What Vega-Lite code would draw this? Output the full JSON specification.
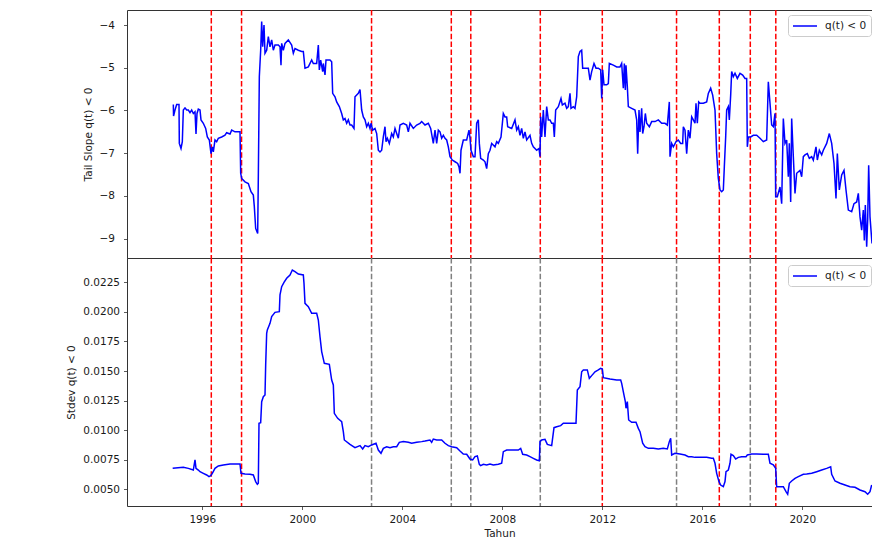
{
  "$schema": "https://vega.github.io/schema/vega-lite/v6.json",
  "padding": {"left": 66, "top": 8, "right": 0, "bottom": 0},
  "spacing": 0,
  "bounds": "flush",
  "config": {
    "font": "DejaVu Sans",
    "view": {"stroke": "#333333", "strokeWidth": 1},
    "concat": {"spacing": 0},
    "axis": {"grid": false, "domain": false, "labelFont": "DejaVu Sans", "labelFontSize": 10.5, "labelColor": "#1a1a1a", "titleFont": "DejaVu Sans", "titleFontSize": 10.5, "titleFontWeight": "normal", "titleColor": "#1a1a1a", "tickColor": "#333333", "tickSize": 3.5, "tickWidth": 0.8},
    "legend": {"labelFont": "DejaVu Sans", "labelFontSize": 10.5, "labelColor": "#1a1a1a", "symbolType": "M-1,0H3", "symbolSize": 144, "symbolStrokeWidth": 1.5, "strokeColor": "#cccccc", "fillColor": "rgba(255,255,255,0.8)", "padding": 4, "cornerRadius": 3, "labelOffset": 19, "title": null}
  },
  "datasets": {
    "events": [
      {"year": 1996.36, "kind": "r"}, {"year": 1997.57, "kind": "r"}, {"year": 2002.77, "kind": "g"},
      {"year": 2005.96, "kind": "g"}, {"year": 2006.74, "kind": "g"}, {"year": 2009.52, "kind": "g"},
      {"year": 2012.0, "kind": "r"}, {"year": 2014.97, "kind": "g"}, {"year": 2016.68, "kind": "r"},
      {"year": 2017.92, "kind": "g"}, {"year": 2018.94, "kind": "r"}
    ],
    "slope": [
      {"year":1994.841,"value":-5.86},{"year":1994.85,"value":-6.13},{"year":1994.908,"value":-5.99},{"year":1994.975,"value":-5.86},{"year":1995.068,"value":-5.86},{"year":1995.081,"value":-6.77},{"year":1995.148,"value":-6.89},{"year":1995.201,"value":-6.73},{"year":1995.241,"value":-5.99},{"year":1995.308,"value":-5.94},{"year":1995.375,"value":-5.99},{"year":1995.441,"value":-5.99},{"year":1995.508,"value":-6.05},{"year":1995.575,"value":-5.99},{"year":1995.641,"value":-6.07},{"year":1995.708,"value":-6.03},{"year":1995.748,"value":-6.55},{"year":1995.788,"value":-6.07},{"year":1995.841,"value":-5.97},{"year":1995.908,"value":-5.99},{"year":1995.948,"value":-6.22},{"year":1996.041,"value":-6.30},{"year":1996.135,"value":-6.42},{"year":1996.201,"value":-6.62},{"year":1996.281,"value":-6.69},{"year":1996.348,"value":-7.01},{"year":1996.401,"value":-6.85},{"year":1996.441,"value":-6.97},{"year":1996.508,"value":-6.69},{"year":1996.575,"value":-6.73},{"year":1996.641,"value":-6.65},{"year":1996.775,"value":-6.62},{"year":1996.908,"value":-6.58},{"year":1996.975,"value":-6.52},{"year":1997.108,"value":-6.55},{"year":1997.175,"value":-6.46},{"year":1997.308,"value":-6.50},{"year":1997.441,"value":-6.50},{"year":1997.508,"value":-6.50},{"year":1997.535,"value":-7.47},{"year":1997.575,"value":-7.59},{"year":1997.708,"value":-7.67},{"year":1997.841,"value":-7.71},{"year":1997.948,"value":-7.90},{"year":1998.041,"value":-7.98},{"year":1998.081,"value":-8.25},{"year":1998.135,"value":-8.76},{"year":1998.215,"value":-8.88},{"year":1998.241,"value":-7.55},{"year":1998.281,"value":-5.21},{"year":1998.335,"value":-4.59},{"year":1998.375,"value":-3.92},{"year":1998.415,"value":-4.51},{"year":1998.468,"value":-4.00},{"year":1998.508,"value":-4.66},{"year":1998.575,"value":-4.59},{"year":1998.641,"value":-4.27},{"year":1998.708,"value":-4.51},{"year":1998.775,"value":-4.35},{"year":1998.841,"value":-4.59},{"year":1998.908,"value":-4.47},{"year":1999.041,"value":-4.47},{"year":1999.108,"value":-4.51},{"year":1999.148,"value":-4.94},{"year":1999.175,"value":-4.43},{"year":1999.241,"value":-4.59},{"year":1999.308,"value":-4.43},{"year":1999.441,"value":-4.35},{"year":1999.575,"value":-4.47},{"year":1999.641,"value":-4.66},{"year":1999.708,"value":-4.55},{"year":1999.841,"value":-4.59},{"year":1999.975,"value":-4.62},{"year":2000.041,"value":-4.62},
      {"year":2000.108,"value":-5.01},{"year":2000.241,"value":-4.98},{"year":2000.375,"value":-4.82},{"year":2000.441,"value":-4.90},{"year":2000.575,"value":-4.90},{"year":2000.641,"value":-4.47},{"year":2000.681,"value":-5.05},{"year":2000.735,"value":-4.82},{"year":2000.815,"value":-5.09},{"year":2000.841,"value":-4.90},{"year":2000.908,"value":-5.17},{"year":2000.948,"value":-4.82},{"year":2001.108,"value":-4.82},{"year":2001.175,"value":-4.86},{"year":2001.215,"value":-5.60},{"year":2001.308,"value":-5.68},{"year":2001.375,"value":-5.80},{"year":2001.481,"value":-5.91},{"year":2001.575,"value":-6.07},{"year":2001.641,"value":-6.22},{"year":2001.708,"value":-6.19},{"year":2001.775,"value":-6.30},{"year":2001.841,"value":-6.22},{"year":2001.908,"value":-6.34},{"year":2001.975,"value":-6.34},{"year":2002.068,"value":-6.42},{"year":2002.108,"value":-5.68},{"year":2002.241,"value":-5.60},{"year":2002.308,"value":-5.51},{"year":2002.375,"value":-5.99},{"year":2002.441,"value":-6.15},{"year":2002.508,"value":-6.22},{"year":2002.575,"value":-6.38},{"year":2002.641,"value":-6.30},{"year":2002.708,"value":-6.42},{"year":2002.748,"value":-6.30},{"year":2002.815,"value":-6.46},{"year":2002.908,"value":-6.42},{"year":2002.975,"value":-6.54},{"year":2003.041,"value":-6.93},{"year":2003.108,"value":-6.97},{"year":2003.175,"value":-6.93},{"year":2003.241,"value":-6.62},{"year":2003.308,"value":-6.38},{"year":2003.348,"value":-6.73},{"year":2003.401,"value":-6.65},{"year":2003.481,"value":-6.77},{"year":2003.575,"value":-6.54},{"year":2003.641,"value":-6.62},{"year":2003.708,"value":-6.42},{"year":2003.775,"value":-6.54},{"year":2003.841,"value":-6.65},{"year":2003.908,"value":-6.34},{"year":2004.041,"value":-6.30},{"year":2004.175,"value":-6.34},{"year":2004.241,"value":-6.50},{"year":2004.308,"value":-6.30},{"year":2004.441,"value":-6.42},{"year":2004.575,"value":-6.34},{"year":2004.708,"value":-6.30},{"year":2004.775,"value":-6.26},{"year":2004.908,"value":-6.34},{"year":2005.041,"value":-6.30},{"year":2005.135,"value":-6.42},{"year":2005.241,"value":-6.77},{"year":2005.308,"value":-6.46},{"year":2005.375,"value":-6.77},{"year":2005.441,"value":-6.46},{"year":2005.508,"value":-6.50},{"year":2005.575,"value":-6.65},{"year":2005.641,"value":-6.58},
      {"year":2005.708,"value":-6.65},{"year":2005.775,"value":-6.69},{"year":2005.841,"value":-6.85},{"year":2005.908,"value":-7.08},{"year":2006.001,"value":-7.16},{"year":2006.108,"value":-7.20},{"year":2006.215,"value":-7.24},{"year":2006.268,"value":-7.32},{"year":2006.308,"value":-7.47},{"year":2006.348,"value":-6.93},{"year":2006.441,"value":-6.69},{"year":2006.575,"value":-6.69},{"year":2006.668,"value":-6.46},{"year":2006.708,"value":-6.65},{"year":2006.748,"value":-6.93},{"year":2006.841,"value":-7.08},{"year":2006.908,"value":-7.08},{"year":2006.975,"value":-6.30},{"year":2007.041,"value":-6.22},{"year":2007.081,"value":-6.77},{"year":2007.135,"value":-7.12},{"year":2007.241,"value":-7.16},{"year":2007.308,"value":-7.20},{"year":2007.375,"value":-7.36},{"year":2007.441,"value":-7.01},{"year":2007.508,"value":-6.93},{"year":2007.575,"value":-6.77},{"year":2007.708,"value":-6.85},{"year":2007.775,"value":-6.73},{"year":2007.841,"value":-6.77},{"year":2007.948,"value":-6.62},{"year":2008.041,"value":-6.07},{"year":2008.108,"value":-6.15},{"year":2008.175,"value":-6.15},{"year":2008.215,"value":-6.38},{"year":2008.375,"value":-6.42},{"year":2008.508,"value":-6.22},{"year":2008.575,"value":-6.46},{"year":2008.641,"value":-6.38},{"year":2008.708,"value":-6.58},{"year":2008.775,"value":-6.42},{"year":2008.841,"value":-6.65},{"year":2008.908,"value":-6.50},{"year":2008.975,"value":-6.69},{"year":2009.108,"value":-6.58},{"year":2009.175,"value":-6.77},{"year":2009.241,"value":-6.85},{"year":2009.375,"value":-6.93},{"year":2009.468,"value":-6.89},{"year":2009.508,"value":-7.08},{"year":2009.535,"value":-6.15},{"year":2009.575,"value":-6.62},{"year":2009.641,"value":-5.99},{"year":2009.708,"value":-6.62},{"year":2009.775,"value":-5.91},{"year":2009.841,"value":-6.22},{"year":2009.908,"value":-6.22},{"year":2009.975,"value":-6.30},{"year":2010.041,"value":-6.30},{"year":2010.081,"value":-6.62},{"year":2010.135,"value":-5.99},{"year":2010.241,"value":-5.91},{"year":2010.348,"value":-5.72},{"year":2010.401,"value":-5.87},{"year":2010.508,"value":-5.83},{"year":2010.575,"value":-5.95},{"year":2010.641,"value":-5.91},{"year":2010.708,"value":-5.60},{"year":2010.748,"value":-5.95},{"year":2010.841,"value":-5.91},{"year":2010.908,"value":-5.95},{"year":2010.975,"value":-5.68},{"year":2011.041,"value":-4.74},{"year":2011.108,"value":-4.62},{"year":2011.175,"value":-4.59},{"year":2011.215,"value":-5.01},{"year":2011.308,"value":-5.01},{"year":2011.441,"value":-5.01},
      {"year":2011.508,"value":-5.29},{"year":2011.575,"value":-5.09},{"year":2011.668,"value":-4.90},{"year":2011.748,"value":-5.01},{"year":2011.841,"value":-5.01},{"year":2011.935,"value":-5.05},{"year":2011.975,"value":-5.72},{"year":2012.015,"value":-5.05},{"year":2012.068,"value":-5.40},{"year":2012.175,"value":-5.40},{"year":2012.241,"value":-5.37},{"year":2012.281,"value":-4.90},{"year":2012.441,"value":-4.94},{"year":2012.575,"value":-4.98},{"year":2012.708,"value":-4.98},{"year":2012.775,"value":-4.90},{"year":2012.841,"value":-5.48},{"year":2012.881,"value":-4.90},{"year":2012.921,"value":-5.52},{"year":2012.948,"value":-4.94},{"year":2013.001,"value":-5.44},{"year":2013.041,"value":-5.91},{"year":2013.175,"value":-5.95},{"year":2013.308,"value":-5.99},{"year":2013.375,"value":-6.22},{"year":2013.415,"value":-7.01},{"year":2013.468,"value":-5.99},{"year":2013.508,"value":-6.50},{"year":2013.575,"value":-5.95},{"year":2013.615,"value":-6.54},{"year":2013.668,"value":-6.38},{"year":2013.721,"value":-6.07},{"year":2013.775,"value":-6.30},{"year":2013.881,"value":-6.38},{"year":2013.975,"value":-6.26},{"year":2014.108,"value":-6.26},{"year":2014.241,"value":-6.22},{"year":2014.375,"value":-6.30},{"year":2014.508,"value":-6.30},{"year":2014.601,"value":-6.34},{"year":2014.681,"value":-5.80},{"year":2014.708,"value":-7.08},{"year":2014.775,"value":-6.77},{"year":2014.841,"value":-6.85},{"year":2014.948,"value":-6.73},{"year":2015.041,"value":-6.69},{"year":2015.135,"value":-6.77},{"year":2015.215,"value":-6.77},{"year":2015.241,"value":-6.38},{"year":2015.308,"value":-6.46},{"year":2015.375,"value":-7.01},{"year":2015.441,"value":-6.46},{"year":2015.508,"value":-6.65},{"year":2015.575,"value":-6.15},{"year":2015.641,"value":-6.22},{"year":2015.708,"value":-6.30},{"year":2015.748,"value":-5.83},{"year":2015.801,"value":-6.30},{"year":2015.855,"value":-5.80},{"year":2015.908,"value":-5.83},{"year":2016.041,"value":-5.83},{"year":2016.175,"value":-5.80},{"year":2016.241,"value":-5.60},{"year":2016.335,"value":-5.48},{"year":2016.415,"value":-5.64},{"year":2016.508,"value":-5.99},{"year":2016.575,"value":-7.01},{"year":2016.641,"value":-7.59},{"year":2016.708,"value":-7.86},{"year":2016.775,"value":-7.90},{"year":2016.841,"value":-7.86},{"year":2016.881,"value":-7.32},{"year":2016.935,"value":-6.62},{"year":2016.975,"value":-5.99},{"year":2017.041,"value":-5.91},{"year":2017.081,"value":-6.22},{"year":2017.135,"value":-5.64},{"year":2017.175,"value":-5.09},
      {"year":2017.241,"value":-5.21},{"year":2017.308,"value":-5.13},{"year":2017.401,"value":-5.25},{"year":2017.508,"value":-5.13},{"year":2017.615,"value":-5.17},{"year":2017.708,"value":-5.25},{"year":2017.775,"value":-5.25},{"year":2017.801,"value":-6.85},{"year":2017.841,"value":-6.62},{"year":2017.935,"value":-6.62},{"year":2018.041,"value":-6.58},{"year":2018.175,"value":-6.58},{"year":2018.308,"value":-6.65},{"year":2018.441,"value":-6.73},{"year":2018.575,"value":-6.69},{"year":2018.641,"value":-5.33},{"year":2018.708,"value":-5.83},{"year":2018.775,"value":-6.34},{"year":2018.841,"value":-6.38},{"year":2018.908,"value":-6.07},{"year":2018.935,"value":-8.02},{"year":2019.001,"value":-8.02},{"year":2019.108,"value":-7.79},{"year":2019.175,"value":-8.18},{"year":2019.241,"value":-6.19},{"year":2019.308,"value":-6.77},{"year":2019.375,"value":-6.69},{"year":2019.441,"value":-7.55},{"year":2019.481,"value":-6.77},{"year":2019.535,"value":-8.14},{"year":2019.575,"value":-6.19},{"year":2019.641,"value":-7.08},{"year":2019.708,"value":-7.94},{"year":2019.775,"value":-7.47},{"year":2019.908,"value":-7.40},{"year":2019.975,"value":-7.55},{"year":2020.041,"value":-7.08},{"year":2020.108,"value":-7.04},{"year":2020.201,"value":-7.01},{"year":2020.281,"value":-7.12},{"year":2020.375,"value":-7.08},{"year":2020.441,"value":-7.16},{"year":2020.548,"value":-6.85},{"year":2020.601,"value":-7.16},{"year":2020.681,"value":-6.93},{"year":2020.775,"value":-7.04},{"year":2020.841,"value":-6.93},{"year":2020.975,"value":-6.77},{"year":2021.081,"value":-6.54},{"year":2021.175,"value":-6.77},{"year":2021.268,"value":-7.24},{"year":2021.348,"value":-8.06},{"year":2021.401,"value":-7.01},{"year":2021.481,"value":-7.86},{"year":2021.575,"value":-7.51},{"year":2021.668,"value":-7.40},{"year":2021.748,"value":-7.86},{"year":2021.841,"value":-8.33},{"year":2021.975,"value":-8.37},{"year":2022.068,"value":-8.18},{"year":2022.175,"value":-8.14},{"year":2022.241,"value":-7.94},{"year":2022.308,"value":-8.49},{"year":2022.375,"value":-8.80},{"year":2022.441,"value":-8.33},{"year":2022.481,"value":-9.04},{"year":2022.521,"value":-8.21},{"year":2022.575,"value":-9.19},{"year":2022.615,"value":-8.57},{"year":2022.655,"value":-7.28},{"year":2022.708,"value":-8.49},{"year":2022.788,"value":-9.11}
    ],
    "stdev": [
      {"year":1994.815,"value":0.00677},{"year":1995.241,"value":0.00686},{"year":1995.441,"value":0.00677},{"year":1995.641,"value":0.00663},{"year":1995.708,"value":0.00748},{"year":1995.748,"value":0.00677},{"year":1995.841,"value":0.00663},{"year":1995.908,"value":0.00649},{"year":1996.041,"value":0.00635},{"year":1996.175,"value":0.00621},{"year":1996.268,"value":0.00607},{"year":1996.335,"value":0.00615},{"year":1996.401,"value":0.00635},{"year":1996.508,"value":0.00677},{"year":1996.641,"value":0.00697},{"year":1996.841,"value":0.00706},{"year":1997.108,"value":0.00714},{"year":1997.308,"value":0.00714},{"year":1997.508,"value":0.00714},{"year":1997.548,"value":0.00635},{"year":1997.708,"value":0.00629},{"year":1997.908,"value":0.00627},{"year":1998.041,"value":0.00621},{"year":1998.135,"value":0.00565},{"year":1998.201,"value":0.00542},{"year":1998.241,"value":0.00551},{"year":1998.268,"value":0.01058},{"year":1998.335,"value":0.01063},{"year":1998.375,"value":0.01241},{"year":1998.441,"value":0.01283},{"year":1998.508,"value":0.01297},{"year":1998.535,"value":0.01551},{"year":1998.575,"value":0.01819},{"year":1998.601,"value":0.01847},{"year":1998.708,"value":0.01903},{"year":1998.775,"value":0.01960},{"year":1998.908,"value":0.01996},{"year":1999.081,"value":0.02002},{"year":1999.108,"value":0.02143},{"year":1999.175,"value":0.02213},{"year":1999.268,"value":0.02250},{"year":1999.375,"value":0.02284},{"year":1999.508,"value":0.02312},{"year":1999.601,"value":0.02354},{"year":1999.708,"value":0.02340},{"year":1999.841,"value":0.02320},{"year":2000.041,"value":0.02312},{"year":2000.068,"value":0.02241},{"year":2000.108,"value":0.02072},{"year":2000.241,"value":0.02044},{"year":2000.375,"value":0.01988},{"year":2000.575,"value":0.01988},{"year":2000.641,"value":0.01931},{"year":2000.708,"value":0.01790},{"year":2000.775,"value":0.01664},{"year":2000.881,"value":0.01565},{"year":2001.081,"value":0.01556},{"year":2001.175,"value":0.01424},{"year":2001.241,"value":0.01382},{"year":2001.281,"value":0.01142},{"year":2001.415,"value":0.01100},{"year":2001.575,"value":0.01072},{"year":2001.641,"value":0.00987},{"year":2001.681,"value":0.00917},{"year":2001.908,"value":0.00880},{"year":2002.108,"value":0.00852},
      {"year":2002.308,"value":0.00869},{"year":2002.415,"value":0.00841},{"year":2002.508,"value":0.00869},{"year":2002.641,"value":0.00860},{"year":2002.775,"value":0.00875},{"year":2002.948,"value":0.00889},{"year":2003.041,"value":0.00832},{"year":2003.148,"value":0.00804},{"year":2003.241,"value":0.00846},{"year":2003.375,"value":0.00860},{"year":2003.508,"value":0.00852},{"year":2003.641,"value":0.00860},{"year":2003.775,"value":0.00860},{"year":2003.881,"value":0.00897},{"year":2004.041,"value":0.00903},{"year":2004.241,"value":0.00897},{"year":2004.375,"value":0.00889},{"year":2004.575,"value":0.00897},{"year":2004.775,"value":0.00903},{"year":2004.908,"value":0.00908},{"year":2005.108,"value":0.00917},{"year":2005.175,"value":0.00897},{"year":2005.241,"value":0.00925},{"year":2005.375,"value":0.00917},{"year":2005.575,"value":0.00917},{"year":2005.708,"value":0.00889},{"year":2005.841,"value":0.00869},{"year":2005.975,"value":0.00860},{"year":2006.175,"value":0.00852},{"year":2006.308,"value":0.00824},{"year":2006.441,"value":0.00798},{"year":2006.575,"value":0.00796},{"year":2006.708,"value":0.00756},{"year":2006.815,"value":0.00748},{"year":2006.908,"value":0.00776},{"year":2007.001,"value":0.00782},{"year":2007.081,"value":0.00711},{"year":2007.135,"value":0.00700},{"year":2007.241,"value":0.00711},{"year":2007.375,"value":0.00706},{"year":2007.508,"value":0.00714},{"year":2007.641,"value":0.00706},{"year":2007.841,"value":0.00711},{"year":2007.975,"value":0.00720},{"year":2008.041,"value":0.00818},{"year":2008.175,"value":0.00832},{"year":2008.441,"value":0.00832},{"year":2008.641,"value":0.00832},{"year":2008.735,"value":0.00846},{"year":2008.815,"value":0.00796},{"year":2008.975,"value":0.00790},{"year":2009.108,"value":0.00776},{"year":2009.241,"value":0.00762},{"year":2009.375,"value":0.00748},{"year":2009.481,"value":0.00742},{"year":2009.508,"value":0.00903},{"year":2009.575,"value":0.00917},{"year":2009.708,"value":0.00922},{"year":2009.801,"value":0.00880},{"year":2009.975,"value":0.00869},{"year":2010.068,"value":0.01021},{"year":2010.175,"value":0.01029},{"year":2010.335,"value":0.01038},{"year":2010.441,"value":0.01058},{"year":2010.708,"value":0.01058},{"year":2010.948,"value":0.01058},{"year":2011.001,"value":0.01339},{"year":2011.108,"value":0.01368},{"year":2011.175,"value":0.01494},{"year":2011.241,"value":0.01509},{"year":2011.401,"value":0.01509},{"year":2011.481,"value":0.01438},{"year":2011.575,"value":0.01461},{"year":2011.708,"value":0.01494},{"year":2011.841,"value":0.01509},{"year":2011.935,"value":0.01523},{"year":2012.001,"value":0.01517},{"year":2012.041,"value":0.01444},{"year":2012.308,"value":0.01433},{"year":2012.575,"value":0.01424},{"year":2012.735,"value":0.01424},{"year":2012.775,"value":0.01396},{"year":2012.868,"value":0.01297},{"year":2012.921,"value":0.01241},{"year":2012.948,"value":0.01185},{"year":2013.001,"value":0.01241},{"year":2013.055,"value":0.01086},{"year":2013.175,"value":0.01066},{"year":2013.348,"value":0.01066},{"year":2013.441,"value":0.01015},
      {"year":2013.508,"value":0.00987},{"year":2013.615,"value":0.00889},{"year":2013.708,"value":0.00860},{"year":2013.841,"value":0.00846},{"year":2014.041,"value":0.00846},{"year":2014.241,"value":0.00841},{"year":2014.441,"value":0.00846},{"year":2014.601,"value":0.00841},{"year":2014.681,"value":0.00903},{"year":2014.735,"value":0.00931},{"year":2014.775,"value":0.00790},{"year":2014.908,"value":0.00804},{"year":2015.108,"value":0.00798},{"year":2015.308,"value":0.00790},{"year":2015.441,"value":0.00776},{"year":2015.575,"value":0.00776},{"year":2015.708,"value":0.00770},{"year":2015.975,"value":0.00770},{"year":2016.175,"value":0.00770},{"year":2016.375,"value":0.00762},{"year":2016.441,"value":0.00762},{"year":2016.508,"value":0.00720},{"year":2016.575,"value":0.00635},{"year":2016.668,"value":0.00565},{"year":2016.735,"value":0.00536},{"year":2016.841,"value":0.00522},{"year":2016.908,"value":0.00565},{"year":2016.948,"value":0.00649},{"year":2017.041,"value":0.00663},{"year":2017.108,"value":0.00720},{"year":2017.148,"value":0.00796},{"year":2017.241,"value":0.00785},{"year":2017.335,"value":0.00756},{"year":2017.441,"value":0.00770},{"year":2017.575,"value":0.00776},{"year":2017.748,"value":0.00776},{"year":2017.801,"value":0.00790},{"year":2017.975,"value":0.00798},{"year":2018.175,"value":0.00798},{"year":2018.441,"value":0.00796},{"year":2018.641,"value":0.00796},{"year":2018.708,"value":0.00720},{"year":2018.841,"value":0.00706},{"year":2018.935,"value":0.00677},{"year":2018.975,"value":0.00522},{"year":2019.108,"value":0.00522},{"year":2019.241,"value":0.00522},{"year":2019.348,"value":0.00480},{"year":2019.415,"value":0.00458},{"year":2019.481,"value":0.00551},{"year":2019.575,"value":0.00570},{"year":2019.708,"value":0.00593},{"year":2019.841,"value":0.00607},{"year":2020.041,"value":0.00627},{"year":2020.175,"value":0.00629},{"year":2020.375,"value":0.00635},{"year":2020.575,"value":0.00649},{"year":2020.775,"value":0.00663},{"year":2020.975,"value":0.00677},{"year":2021.135,"value":0.00691},{"year":2021.175,"value":0.00627},{"year":2021.308,"value":0.00570},{"year":2021.508,"value":0.00551},{"year":2021.708,"value":0.00536},{"year":2021.908,"value":0.00522},{"year":2022.108,"value":0.00517},{"year":2022.308,"value":0.00494},{"year":2022.508,"value":0.00480},{"year":2022.615,"value":0.00458},{"year":2022.708,"value":0.00480},{"year":2022.775,"value":0.00536}
    ]
  },
  "resolve": {"scale": {"color": "independent", "stroke": "independent"}, "legend": {"color": "independent"}},
  "vconcat": [
    {
      "width": 745,
      "height": 248,
      "layer": [
        {
          "data": {"name": "events"},
          "mark": {"type": "rule", "color": "#ff0000", "strokeWidth": 1.5, "strokeDash": [5.5, 2.4]},
          "encoding": {
            "x": {"field": "year", "type": "quantitative", "scale": {"domain": [1992.988, 2022.788], "nice": false, "zero": false}, "axis": null}
          }
        },
        {
          "data": {"name": "slope"},
          "mark": {"type": "line", "strokeWidth": 1.5, "clip": true},
          "encoding": {
            "x": {"field": "year", "type": "quantitative", "scale": {"domain": [1992.988, 2022.788], "nice": false, "zero": false}, "axis": null},
            "y": {"field": "value", "type": "quantitative", "scale": {"domain": [-9.452, -3.649], "nice": false, "zero": false}, "axis": {"values": [-9, -8, -7, -6, -5, -4], "format": "d", "title": "Tail Slope q(t) < 0", "labelPadding": 9, "titlePadding": 6}},
            "color": {"datum": "q(t) < 0", "type": "nominal", "scale": {"range": ["#0000ff"]}, "legend": {"orient": "none", "legendX": 661, "legendY": 5}}
          }
        }
      ]
    },
    {
      "width": 745,
      "height": 248,
      "layer": [
        {
          "data": {"name": "events"},
          "mark": {"type": "rule", "strokeWidth": 1.5, "strokeDash": [5.5, 2.4]},
          "encoding": {
            "x": {"field": "year", "type": "quantitative", "scale": {"domain": [1992.988, 2022.788], "nice": false, "zero": false}},
            "stroke": {"field": "kind", "type": "nominal", "scale": {"domain": ["r", "g"], "range": ["#ff0000", "#808080"]}, "legend": null}
          }
        },
        {
          "data": {"name": "stdev"},
          "mark": {"type": "line", "strokeWidth": 1.5, "clip": true},
          "encoding": {
            "x": {"field": "year", "type": "quantitative", "scale": {"domain": [1992.988, 2022.788], "nice": false, "zero": false}, "axis": {"values": [1996, 2000, 2004, 2008, 2012, 2016, 2020], "format": "d", "title": "Tahun", "labelPadding": 5, "titlePadding": 3}},
            "y": {"field": "value", "type": "quantitative", "scale": {"domain": [0.003588, 0.024554], "nice": false, "zero": false}, "axis": {"values": [0.005, 0.0075, 0.01, 0.0125, 0.015, 0.0175, 0.02, 0.0225], "format": ".4f", "title": "Stdev q(t) < 0", "labelPadding": 4, "titlePadding": 6}},
            "color": {"datum": "q(t) < 0", "type": "nominal", "scale": {"range": ["#0000ff"]}, "legend": {"orient": "none", "legendX": 661, "legendY": 7}}
          }
        }
      ]
    }
  ]
}
